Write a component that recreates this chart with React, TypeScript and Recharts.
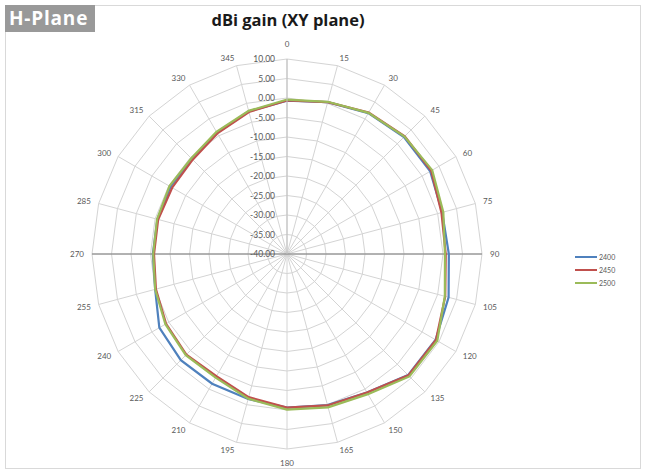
import { RadarChart, PolarGrid, PolarAngleAxis, PolarRadiusAxis, Radar, Legend } from 'recharts'

// Excel 2007 default series colours
const BLUE = '#4f81bd'
const RED = '#c0504d'
const GREEN = '#9bbb59'
const GRID = '#d4d4d4'
const LABEL = '#595959'
const FONT = 'Lato, "Open Sans", sans-serif'
const CX = 287
const CY = 254

const ANGLES = ['0', '15', '30', '45', '60', '75', '90', '105', '120', '135', '150', '165',
  '180', '195', '210', '225', '240', '255', '270', '285', '300', '315', '330', '345']

const GAIN_2400 = [-0.7, 0.3, 1.7, 2.4, 2.4, 1.2, 1.5, 2.9, 4.0, 3.9, 1.0, 0.1,
  -0.6, -1.5, -1.6, -1.5, -2.2, -5.0, -5.6, -5.6, -5.5, -5.5, -4.1, -2.1]
const GAIN_2450 = [-0.6, 0.3, 1.9, 2.7, 2.7, 1.0, 0.7, 2.0, 4.1, 4.0, 1.0, 0.2,
  -0.6, -2.0, -3.8, -3.5, -4.2, -5.2, -5.9, -5.8, -6.0, -5.8, -4.3, -2.3]
const GAIN_2500 = [-0.4, 0.4, 1.8, 2.6, 3.0, 1.5, 0.5, 1.9, 4.5, 4.4, 1.5, 0.7,
  -0.1, -1.6, -3.4, -3.3, -4.0, -5.0, -5.7, -5.5, -5.2, -5.3, -3.8, -2.0]

const RADIUS_TICKS = [-40, -35, -30, -25, -20, -15, -10, -5, 0, 5, 10]

const data = ANGLES.map((angle, i) => ({
  angle,
  f2400: GAIN_2400[i],
  f2450: GAIN_2450[i],
  f2500: GAIN_2500[i],
}))

function AngleTick(props: any) {
  const { x, y, payload, textAnchor } = props
  // labels straight above / below the plot sit a bit further out, like Excel
  const dy = textAnchor === 'middle' ? (y < CY ? -7 : 6) : 0
  return (
    <text x={x} y={y + dy} textAnchor={textAnchor} dominantBaseline="central" fontSize={8} fill={LABEL} fontFamily={FONT}>
      {payload.value}
    </text>
  )
}

function RadiusTick(props: any) {
  const { x, y, payload } = props
  return (
    <text x={x - 12} y={y} textAnchor="end" dominantBaseline="central" fontSize={8.5} fill={LABEL} fontFamily={FONT}>
      {Number(payload.value).toFixed(2)}
    </text>
  )
}

function LegendBox(props: any) {
  const { payload = [] } = props
  return (
    <div style={{ fontFamily: FONT, fontSize: 7, color: LABEL }}>
      {payload.map((p: any) => (
        <div key={p.value} style={{ display: 'flex', alignItems: 'center', height: 13 }}>
          <span style={{ display: 'inline-block', width: 22, height: 2, background: p.color, marginRight: 2 }} />
          <span>{p.value}</span>
        </div>
      ))}
    </div>
  )
}

export default function App() {
  return (
    <div style={{ position: 'fixed', left: 0, top: 0, width: 645, height: 471, background: '#fff' }}>
      <div style={{ position: 'absolute', left: 5, top: 5, width: 634, height: 462, border: '1px solid #d9d9d9' }} />
      <div style={{
        position: 'absolute', left: 5, top: 5, width: 90, height: 27, background: '#999999',
        color: '#fff', fontFamily: '"Open Sans", sans-serif', fontWeight: 700, fontSize: 19, letterSpacing: 0.8,
        lineHeight: '27px', paddingLeft: 4, boxSizing: 'border-box',
      }}>
        H-Plane
      </div>
      <div style={{
        position: 'absolute', left: 0, top: 8, width: 576, textAlign: 'center',
        fontFamily: '"Open Sans", sans-serif', fontWeight: 700, fontSize: 16.5, color: '#1a1a1a',
      }}>
        dBi gain (XY plane)
      </div>
      <RadarChart width={645} height={471} data={data} cx={CX} cy={CY} outerRadius={195}
        margin={{ top: 0, right: 0, bottom: 0, left: 0 }} style={{ position: 'absolute', left: 0, top: 0 }}>
        <PolarGrid stroke={GRID} />
        {/* darker horizontal axis through 90 / 270 */}
        <PolarGrid gridType="circle" polarAngles={[0, 180]} polarRadius={[0]} stroke="#7a7a7a" />
        <PolarAngleAxis dataKey="angle" tick={<AngleTick />} tickSize={8} tickLine={false} axisLine={false} />
        <PolarRadiusAxis angle={90} domain={[-40, 10]} ticks={RADIUS_TICKS} tickCount={11}
          tick={<RadiusTick />} axisLine={{ stroke: '#bfbfbf' }} />
        <Radar name="2400" dataKey="f2400" stroke={BLUE} strokeWidth={2.2} fill="none" fillOpacity={0} dot={false} isAnimationActive={false} />
        <Radar name="2450" dataKey="f2450" stroke={RED} strokeWidth={2.2} fill="none" fillOpacity={0} dot={false} isAnimationActive={false} />
        <Radar name="2500" dataKey="f2500" stroke={GREEN} strokeWidth={2.2} fill="none" fillOpacity={0} dot={false} isAnimationActive={false} />
        <Legend content={<LegendBox />} wrapperStyle={{ position: 'absolute', left: 575, top: 250, width: 'auto' }} />
      </RadarChart>
    </div>
  )
}
